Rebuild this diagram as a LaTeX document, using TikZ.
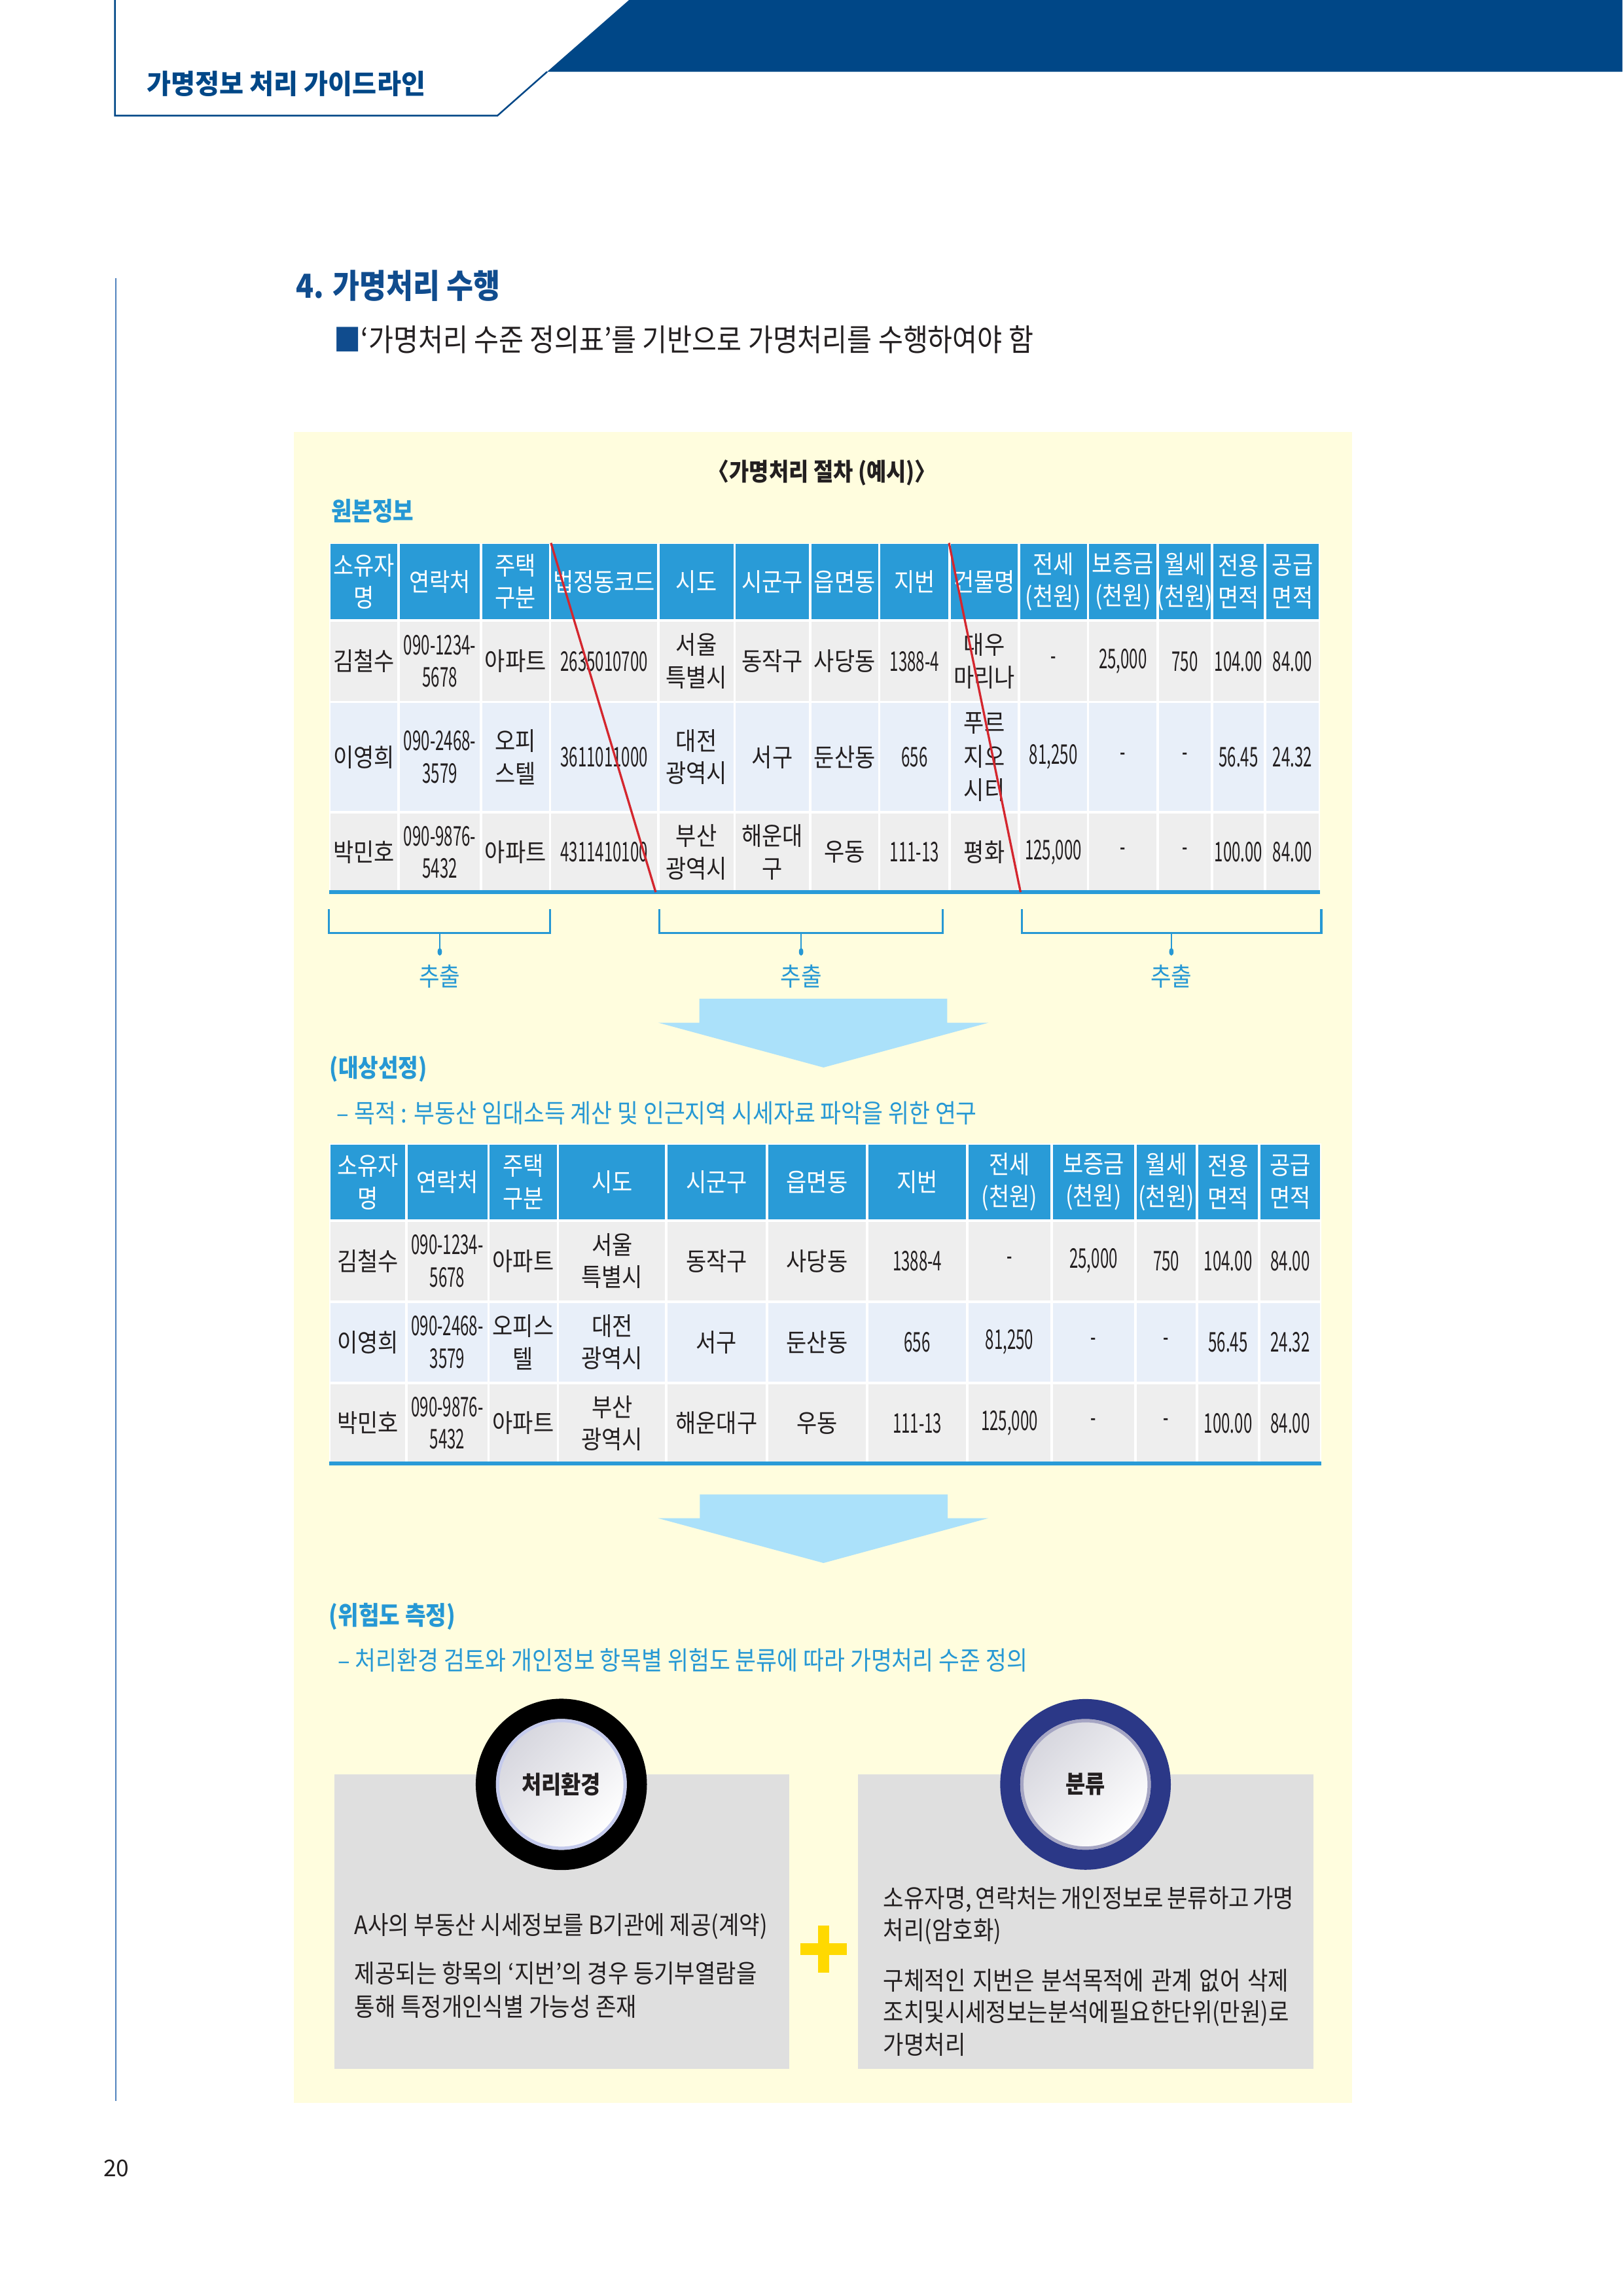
\documentclass[tikz,border=0pt]{standalone}
\usepackage{fontspec}
\setmainfont{Noto Sans CJK KR}[FakeStretch=0.88]
\newfontfamily\numfam{Noto Sans CJK KR}[FakeStretch=0.58]
\newfontfamily\hdrfam{Noto Sans CJK KR}[FakeStretch=0.97]
\newfontfamily\plainfam{Noto Sans CJK KR}

\definecolor{hblue}{RGB}{0,71,135}
\definecolor{tblue}{RGB}{16,76,142}
\definecolor{lblue}{RGB}{38,152,212}
\definecolor{thead}{RGB}{41,155,215}
\definecolor{rowg}{RGB}{238,238,238}
\definecolor{rowb}{RGB}{232,239,249}
\definecolor{ybg}{RGB}{255,253,222}
\definecolor{arrowc}{RGB}{171,225,250}
\definecolor{strike}{RGB}{212,38,46}
\definecolor{boxg}{RGB}{223,223,223}
\definecolor{navy}{RGB}{43,56,135}
\definecolor{plusy}{RGB}{255,217,0}
\definecolor{tdark}{RGB}{35,31,32}
\definecolor{pline}{RGB}{80,130,190}
\definecolor{circg}{RGB}{214,214,222}
\definecolor{rimL}{RGB}{196,202,236}
\definecolor{rimR}{RGB}{165,165,195}

\newcommand\tcell[8]{%
  \fill[#6] ({#2+0.85},{#4+0.85}) rectangle ({#3-0.85},{#5-0.85});
  \node[#7] (#1) at ({(#2+#3)/2},{(#4+#5)/2}) {#8};}

\tikzset{
  ht/.style={inner sep=0pt, align=center, text=white, font=\fontsize{9.3}{11.9}\selectfont},
  tt/.style={inner sep=0pt, align=center, text=tdark, font=\fontsize{9.3}{11.9}\selectfont},
  tt3/.style={inner sep=0pt, align=center, text=tdark, font=\fontsize{9.3}{12.4}\selectfont},
  nt/.style={inner sep=0pt, align=center, text=tdark, font=\numfam\fontsize{10}{11.9}\selectfont},
  lbl/.style={inner sep=0pt, text=lblue, font=\fontsize{9.4}{11}\selectfont},
  lblb/.style={inner sep=0pt, anchor=west, text=lblue, font=\bfseries\fontsize{9.4}{11}\selectfont},
  lbll/.style={inner sep=0pt, anchor=west, text=lblue, font=\fontsize{9.5}{11}\selectfont},
  boxl/.style={inner sep=0pt, anchor=west, text=tdark, font=\fontsize{9.35}{12}\selectfont},
  boxr/.style={inner sep=0pt, anchor=west, text=tdark, font=\fontsize{9.35}{12}\selectfont},
  brk/.style={draw=lblue, line width=0.75pt},
  stem/.style={draw=lblue, line width=0.5pt},
  strikeline/.style={draw=strike, line width=0.8pt},
  badge/.style={inner sep=0pt, text=tdark, font=\bfseries\fontsize{9}{11}\selectfont},
}

\begin{document}
\begin{tikzpicture}[x=0.018936cm, y=-0.018945cm]
\useasboundingbox (0,0) rectangle (1109,1568);
\fill[white] (0,0) rectangle (1109,1568);

% ---------- running header ----------
\fill[hblue] (430,0) -- (1109,0) -- (1109,49) -- (374,49) -- cycle;
\draw[hblue, line width=0.6pt] (78.6,0) -- (78.6,79) -- (340,79) -- (374,49);
\node[anchor=west, inner sep=0pt, text=hblue, font=\hdrfam\bfseries\fontsize{10}{12}\selectfont] (runhead) at (100,57) {가명정보 처리 가이드라인};

% left page rule
\draw[pline, line width=0.5pt] (79,190) -- (79,1435);

% ---------- section title ----------
\node[anchor=west, inner sep=0pt, text=tblue, font=\bfseries\fontsize{12.2}{15}\selectfont] (title) at (202,195) {4. 가명처리 수행};
\node[anchor=west, inner sep=0pt, text=tdark, font=\fontsize{11.3}{13}\selectfont] (subtitle) at (228,232) {\textcolor{tblue}{■}‘가명처리 수준 정의표’를 기반으로 가명처리를 수행하여야 함};

% ---------- yellow panel ----------
\fill[ybg] (201,295) rectangle (924,1436);

\node[inner sep=0pt, text=tdark, font=\bfseries\fontsize{9}{11}\selectfont] (caption) at (562,323) {〈가명처리 절차 (예시)〉};
\node[lblb] (orig) at (226,349) {원본정보};

% ---------- table 1 ----------
\fill[white] (224.9,370.8) rectangle (902.2,609.3);
% header
\tcell{ta0}{224.9}{272.6}{370.8}{423.7}{thead}{ht}{소유자\\명}
\tcell{ta1}{272.6}{328.7}{370.8}{423.7}{thead}{ht}{연락처}
\tcell{ta2}{328.7}{376.0}{370.8}{423.7}{thead}{ht}{주택\\구분}
\tcell{ta3}{376.0}{449.9}{370.8}{423.7}{thead}{ht}{법정동코드}
\tcell{ta4}{449.9}{502.1}{370.8}{423.7}{thead}{ht}{시도}
\tcell{ta5}{502.1}{553.7}{370.8}{423.7}{thead}{ht}{시군구}
\tcell{ta6}{553.7}{601.0}{370.8}{423.7}{thead}{ht}{읍면동}
\tcell{ta7}{601.0}{649.2}{370.8}{423.7}{thead}{ht}{지번}
\tcell{ta8}{649.2}{696.4}{370.8}{423.7}{thead}{ht}{건물명}
\tcell{ta9}{696.4}{743.7}{370.8}{423.7}{thead}{ht}{전세\\(천원)}
\tcell{ta10}{743.7}{791.4}{370.8}{423.7}{thead}{ht}{보증금\\(천원)}
\tcell{ta11}{791.4}{828.3}{370.8}{423.7}{thead}{ht}{월세\\(천원)}
\tcell{ta12}{828.3}{864.8}{370.8}{423.7}{thead}{ht}{전용\\면적}
\tcell{ta13}{864.8}{902.2}{370.8}{423.7}{thead}{ht}{공급\\면적}
% row 1
\tcell{tb0}{224.9}{272.6}{423.7}{479.4}{rowg}{tt}{김철수}
\tcell{tb1}{272.6}{328.7}{423.7}{479.4}{rowg}{nt}{090-1234-\\5678}
\tcell{tb2}{328.7}{376.0}{423.7}{479.4}{rowg}{tt}{아파트}
\tcell{tb3}{376.0}{449.9}{423.7}{479.4}{rowg}{nt}{2635010700}
\tcell{tb4}{449.9}{502.1}{423.7}{479.4}{rowg}{tt}{서울\\특별시}
\tcell{tb5}{502.1}{553.7}{423.7}{479.4}{rowg}{tt}{동작구}
\tcell{tb6}{553.7}{601.0}{423.7}{479.4}{rowg}{tt}{사당동}
\tcell{tb7}{601.0}{649.2}{423.7}{479.4}{rowg}{nt}{1388-4}
\tcell{tb8}{649.2}{696.4}{423.7}{479.4}{rowg}{tt}{대우\\마리나}
\tcell{tb9}{696.4}{743.7}{423.7}{479.4}{rowg}{nt}{-}
\tcell{tb10}{743.7}{791.4}{423.7}{479.4}{rowg}{nt}{25,000}
\tcell{tb11}{791.4}{828.3}{423.7}{479.4}{rowg}{nt}{750}
\tcell{tb12}{828.3}{864.8}{423.7}{479.4}{rowg}{nt}{104.00}
\tcell{tb13}{864.8}{902.2}{423.7}{479.4}{rowg}{nt}{84.00}
% row 2
\tcell{tc0}{224.9}{272.6}{479.4}{554.7}{rowb}{tt}{이영희}
\tcell{tc1}{272.6}{328.7}{479.4}{554.7}{rowb}{nt}{090-2468-\\3579}
\tcell{tc2}{328.7}{376.0}{479.4}{554.7}{rowb}{tt}{오피\\스텔}
\tcell{tc3}{376.0}{449.9}{479.4}{554.7}{rowb}{nt}{3611011000}
\tcell{tc4}{449.9}{502.1}{479.4}{554.7}{rowb}{tt}{대전\\광역시}
\tcell{tc5}{502.1}{553.7}{479.4}{554.7}{rowb}{tt}{서구}
\tcell{tc6}{553.7}{601.0}{479.4}{554.7}{rowb}{tt}{둔산동}
\tcell{tc7}{601.0}{649.2}{479.4}{554.7}{rowb}{nt}{656}
\tcell{tc8}{649.2}{696.4}{479.4}{554.7}{rowb}{tt3}{푸르\\지오\\시티}
\tcell{tc9}{696.4}{743.7}{479.4}{554.7}{rowb}{nt}{81,250}
\tcell{tc10}{743.7}{791.4}{479.4}{554.7}{rowb}{nt}{-}
\tcell{tc11}{791.4}{828.3}{479.4}{554.7}{rowb}{nt}{-}
\tcell{tc12}{828.3}{864.8}{479.4}{554.7}{rowb}{nt}{56.45}
\tcell{tc13}{864.8}{902.2}{479.4}{554.7}{rowb}{nt}{24.32}
% row 3
\tcell{td0}{224.9}{272.6}{554.7}{609.3}{rowg}{tt}{박민호}
\tcell{td1}{272.6}{328.7}{554.7}{609.3}{rowg}{nt}{090-9876-\\5432}
\tcell{td2}{328.7}{376.0}{554.7}{609.3}{rowg}{tt}{아파트}
\tcell{td3}{376.0}{449.9}{554.7}{609.3}{rowg}{nt}{4311410100}
\tcell{td4}{449.9}{502.1}{554.7}{609.3}{rowg}{tt}{부산\\광역시}
\tcell{td5}{502.1}{553.7}{554.7}{609.3}{rowg}{tt}{해운대\\구}
\tcell{td6}{553.7}{601.0}{554.7}{609.3}{rowg}{tt}{우동}
\tcell{td7}{601.0}{649.2}{554.7}{609.3}{rowg}{nt}{111-13}
\tcell{td8}{649.2}{696.4}{554.7}{609.3}{rowg}{tt}{평화}
\tcell{td9}{696.4}{743.7}{554.7}{609.3}{rowg}{nt}{125,000}
\tcell{td10}{743.7}{791.4}{554.7}{609.3}{rowg}{nt}{-}
\tcell{td11}{791.4}{828.3}{554.7}{609.3}{rowg}{nt}{-}
\tcell{td12}{828.3}{864.8}{554.7}{609.3}{rowg}{nt}{100.00}
\tcell{td13}{864.8}{902.2}{554.7}{609.3}{rowg}{nt}{84.00}
\draw[thead, line width=1.35pt] (224.9,609.3) -- (902.2,609.3);

% strike-through lines
\draw[strikeline] (376.6,370.8) -- (448.2,609.3);
\draw[strikeline] (648.7,370.8) -- (697.6,609.3);

% brackets + extraction labels
\draw[brk] (224.9,621) -- (224.9,637.3) -- (376,637.3) -- (376,621);
\draw[brk] (450.8,621) -- (450.8,637.3) -- (644.5,637.3) -- (644.5,621);
\draw[brk] (698.7,621) -- (698.7,637.3) -- (903.2,637.3) -- (903.2,621);
\coordinate (s1a) at (300.6,637.3); \coordinate (s1b) at (300.6,650);
\coordinate (s2a) at (547.6,637.3); \coordinate (s2b) at (547.6,650);
\coordinate (s3a) at (800.7,637.3); \coordinate (s3b) at (800.7,650);
\draw[stem] (s1a) -- (s1b); \draw[stem] (s2a) -- (s2b); \draw[stem] (s3a) -- (s3b);
\fill[lblue] (s1b) ellipse [x radius=1.5, y radius=2.6];
\fill[lblue] (s2b) ellipse [x radius=1.5, y radius=2.6];
\fill[lblue] (s3b) ellipse [x radius=1.5, y radius=2.6];
\node[lbl] (ex1) at (300.6,667) {추출};
\node[lbl] (ex2) at (547.6,667) {추출};
\node[lbl] (ex3) at (800.7,667) {추출};

% arrow 1
\fill[arrowc] (478,682) -- (647.5,682) -- (647.5,698.4) -- (675.8,698.4) -- (562.9,729) -- (449.9,698.4) -- (478,698.4) -- cycle;

\node[lblb, font=\bfseries\fontsize{9.1}{11}\selectfont] (sel) at (225,730) {(대상선정)};
\node[lbll] (purpose) at (230,760) {– 목적 : 부동산 임대소득 계산 및 인근지역 시세자료 파악을 위한 연구};

% ---------- table 2 ----------
\fill[white] (225.1,780.8) rectangle (903.1,999.5);
\tcell{ua0}{225.1}{277.7}{780.8}{833.6}{thead}{ht}{소유자\\명}
\tcell{ua1}{277.7}{333.9}{780.8}{833.6}{thead}{ht}{연락처}
\tcell{ua2}{333.9}{381.4}{780.8}{833.6}{thead}{ht}{주택\\구분}
\tcell{ua3}{381.4}{455.4}{780.8}{833.6}{thead}{ht}{시도}
\tcell{ua4}{455.4}{524.2}{780.8}{833.6}{thead}{ht}{시군구}
\tcell{ua5}{524.2}{592.8}{780.8}{833.6}{thead}{ht}{읍면동}
\tcell{ua6}{592.8}{661.2}{780.8}{833.6}{thead}{ht}{지번}
\tcell{ua7}{661.2}{718.9}{780.8}{833.6}{thead}{ht}{전세\\(천원)}
\tcell{ua8}{718.9}{776.1}{780.8}{833.6}{thead}{ht}{보증금\\(천원)}
\tcell{ua9}{776.1}{818.3}{780.8}{833.6}{thead}{ht}{월세\\(천원)}
\tcell{ua10}{818.3}{860.7}{780.8}{833.6}{thead}{ht}{전용\\면적}
\tcell{ua11}{860.7}{903.1}{780.8}{833.6}{thead}{ht}{공급\\면적}
% row 1
\tcell{ub0}{225.1}{277.7}{833.6}{888.9}{rowg}{tt}{김철수}
\tcell{ub1}{277.7}{333.9}{833.6}{888.9}{rowg}{nt}{090-1234-\\5678}
\tcell{ub2}{333.9}{381.4}{833.6}{888.9}{rowg}{tt}{아파트}
\tcell{ub3}{381.4}{455.4}{833.6}{888.9}{rowg}{tt}{서울\\특별시}
\tcell{ub4}{455.4}{524.2}{833.6}{888.9}{rowg}{tt}{동작구}
\tcell{ub5}{524.2}{592.8}{833.6}{888.9}{rowg}{tt}{사당동}
\tcell{ub6}{592.8}{661.2}{833.6}{888.9}{rowg}{nt}{1388-4}
\tcell{ub7}{661.2}{718.9}{833.6}{888.9}{rowg}{nt}{-}
\tcell{ub8}{718.9}{776.1}{833.6}{888.9}{rowg}{nt}{25,000}
\tcell{ub9}{776.1}{818.3}{833.6}{888.9}{rowg}{nt}{750}
\tcell{ub10}{818.3}{860.7}{833.6}{888.9}{rowg}{nt}{104.00}
\tcell{ub11}{860.7}{903.1}{833.6}{888.9}{rowg}{nt}{84.00}
% row 2
\tcell{uc0}{225.1}{277.7}{888.9}{944.3}{rowb}{tt}{이영희}
\tcell{uc1}{277.7}{333.9}{888.9}{944.3}{rowb}{nt}{090-2468-\\3579}
\tcell{uc2}{333.9}{381.4}{888.9}{944.3}{rowb}{tt}{오피스\\텔}
\tcell{uc3}{381.4}{455.4}{888.9}{944.3}{rowb}{tt}{대전\\광역시}
\tcell{uc4}{455.4}{524.2}{888.9}{944.3}{rowb}{tt}{서구}
\tcell{uc5}{524.2}{592.8}{888.9}{944.3}{rowb}{tt}{둔산동}
\tcell{uc6}{592.8}{661.2}{888.9}{944.3}{rowb}{nt}{656}
\tcell{uc7}{661.2}{718.9}{888.9}{944.3}{rowb}{nt}{81,250}
\tcell{uc8}{718.9}{776.1}{888.9}{944.3}{rowb}{nt}{-}
\tcell{uc9}{776.1}{818.3}{888.9}{944.3}{rowb}{nt}{-}
\tcell{uc10}{818.3}{860.7}{888.9}{944.3}{rowb}{nt}{56.45}
\tcell{uc11}{860.7}{903.1}{888.9}{944.3}{rowb}{nt}{24.32}
% row 3
\tcell{ud0}{225.1}{277.7}{944.3}{999.5}{rowg}{tt}{박민호}
\tcell{ud1}{277.7}{333.9}{944.3}{999.5}{rowg}{nt}{090-9876-\\5432}
\tcell{ud2}{333.9}{381.4}{944.3}{999.5}{rowg}{tt}{아파트}
\tcell{ud3}{381.4}{455.4}{944.3}{999.5}{rowg}{tt}{부산\\광역시}
\tcell{ud4}{455.4}{524.2}{944.3}{999.5}{rowg}{tt}{해운대구}
\tcell{ud5}{524.2}{592.8}{944.3}{999.5}{rowg}{tt}{우동}
\tcell{ud6}{592.8}{661.2}{944.3}{999.5}{rowg}{nt}{111-13}
\tcell{ud7}{661.2}{718.9}{944.3}{999.5}{rowg}{nt}{125,000}
\tcell{ud8}{718.9}{776.1}{944.3}{999.5}{rowg}{nt}{-}
\tcell{ud9}{776.1}{818.3}{944.3}{999.5}{rowg}{nt}{-}
\tcell{ud10}{818.3}{860.7}{944.3}{999.5}{rowg}{nt}{100.00}
\tcell{ud11}{860.7}{903.1}{944.3}{999.5}{rowg}{nt}{84.00}
\draw[thead, line width=1.35pt] (225.1,999.5) -- (903.1,999.5);

% arrow 2
\fill[arrowc] (478.4,1020.6) -- (647.8,1020.6) -- (647.8,1036.8) -- (675.6,1036.8) -- (562.9,1067.4) -- (449.7,1036.8) -- (478.4,1036.8) -- cycle;

\node[lblb] (risk) at (224.6,1104) {(위험도 측정)};
\node[lbll] (riskdesc) at (230.6,1134) {– 처리환경 검토와 개인정보 항목별 위험도 분류에 따라 가명처리 수준 정의};

% ---------- bottom boxes ----------
\fill[boxg] (228.4,1211.6) rectangle (539.6,1412.8);
\fill[boxg] (586.4,1211.6) rectangle (898,1412.8);

% left badge
\fill[black] (383.7,1218.6) circle (58.5);
\shade[top color=circg, bottom color=white, shading angle=45] (383.7,1218.6) circle (44.7);
\draw[rimL, line width=1.2pt] (383.7,1218.6) circle (43.6);
\node[badge] (env) at (383.7,1218.6) {처리환경};

% right badge
\fill[navy] (742,1218.6) circle (58.3);
\shade[top color=circg, bottom color=white, shading angle=45] (742,1218.6) circle (44.6);
\draw[rimR, line width=1.2pt] (742,1218.6) circle (43.5);
\node[badge] (cls) at (742,1218.6) {분류};

% left text
\node[boxl] (l1) at (242,1315.6) {A사의 부동산 시세정보를 B기관에 제공(계약)};
\node[boxl] (l2) at (242,1347.4) {\makebox[5.207cm][s]{제공되는 항목의 ‘지번’의 경우 등기부열람을}};
\node[boxl] (l3) at (242,1370.4) {통해 특정개인식별 가능성 존재};

% right text
\node[boxr] (r1) at (603.5,1297) {\makebox[5.245cm][s]{소유자명, 연락처는 개인정보로 분류하고 가명}};
\node[boxr] (r2) at (603.5,1319) {처리(암호화)};
\node[boxr] (r3) at (603.5,1352.7) {\makebox[5.245cm][s]{구체적인 지번은 분석목적에 관계 없어 삭제}};
\node[boxr] (r4) at (603.5,1374.8) {조치및시세정보는분석에필요한단위(만원)로};
\node[boxr] (r5) at (603.5,1396.5) {가명처리};

% plus sign
\fill[plusy] (547,1327) rectangle (579,1335);
\fill[plusy] (559,1315) rectangle (567,1347);

% page number
\node[inner sep=0pt, text=tdark, font=\plainfam\fontsize{8.5}{10}\selectfont] (pnum) at (79.5,1481) {20};
\end{tikzpicture}
\end{document}
